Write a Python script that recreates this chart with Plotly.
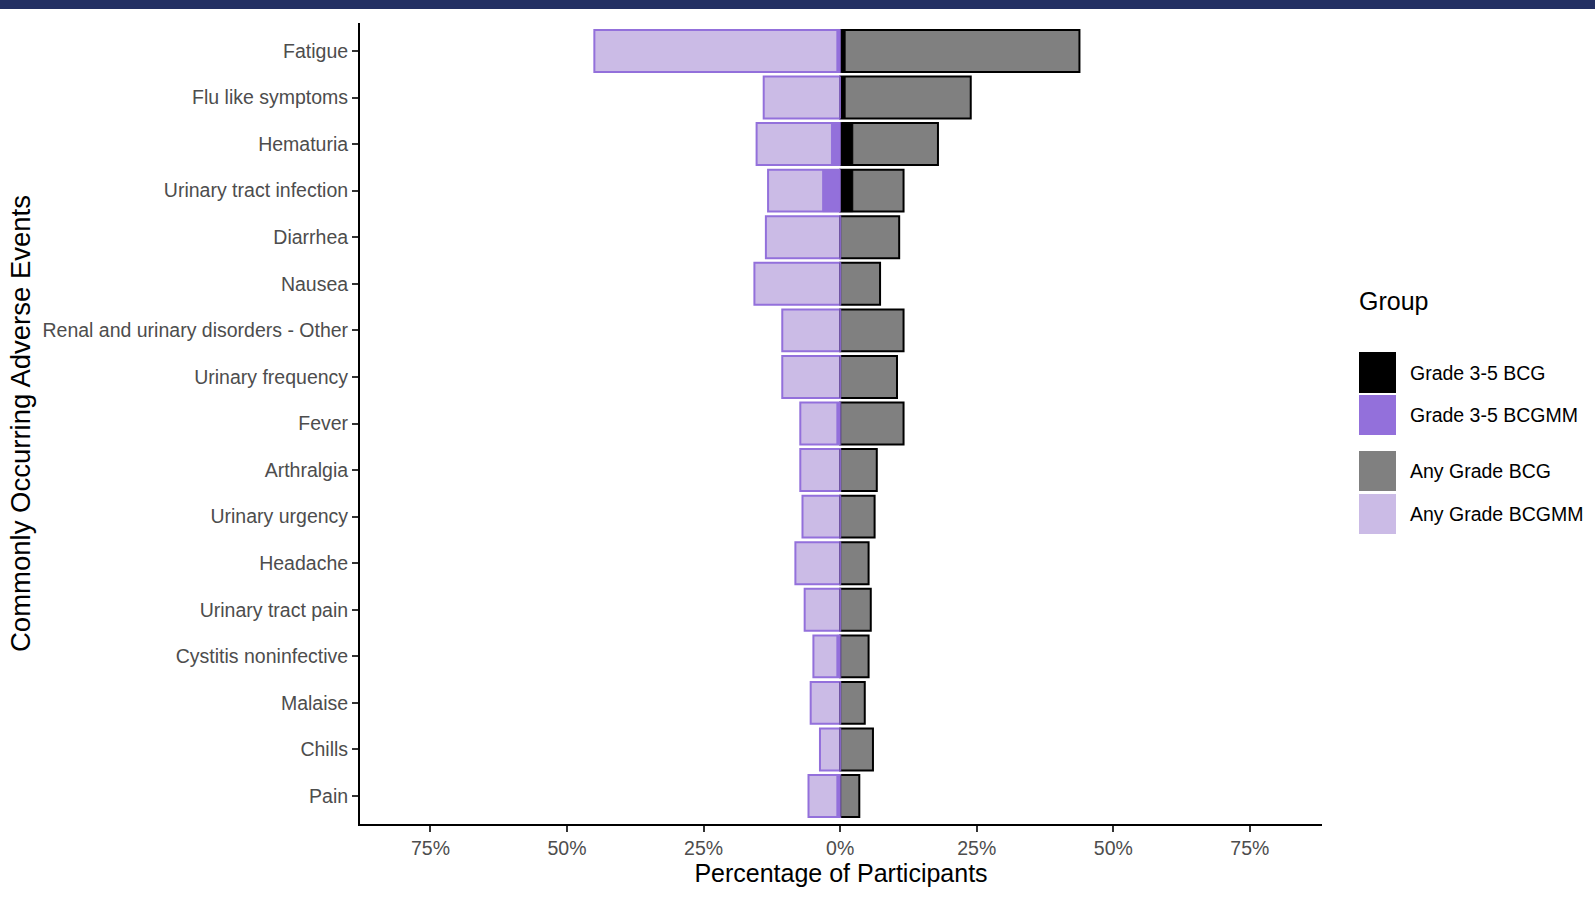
import plotly.graph_objects as go

categories = ["Fatigue", "Flu like symptoms", "Hematuria", "Urinary tract infection",
              "Diarrhea", "Nausea", "Renal and urinary disorders - Other",
              "Urinary frequency", "Fever", "Arthralgia", "Urinary urgency",
              "Headache", "Urinary tract pain", "Cystitis noninfective",
              "Malaise", "Chills", "Pain"]

any_grade_bcg = [43.8, 23.9, 17.9, 11.6, 10.8, 7.3, 11.6, 10.4, 11.6, 6.7, 6.3,
                 5.2, 5.6, 5.2, 4.5, 6.0, 3.5]
any_grade_bcgmm = [45.0, 14.0, 15.3, 13.2, 13.6, 15.7, 10.6, 10.6, 7.3, 7.3, 6.9,
                   8.2, 6.5, 4.9, 5.4, 3.7, 5.8]
grade35_bcg = [0.9, 0.9, 2.3, 2.3, 0, 0, 0, 0, 0, 0, 0, 0, 0, 0, 0, 0, 0]
grade35_bcgmm = [0.6, 0, 1.6, 3.2, 0, 0, 0, 0, 0.6, 0, 0, 0, 0, 0.6, 0, 0, 0.6]

tick_vals = [-75, -50, -25, 0, 25, 50, 75]
tick_text = ["75%", "50%", "25%", "0%", "25%", "50%", "75%"]

legend_title = "Group"
legend_names = ["Grade 3-5 BCG", "Grade 3-5 BCGMM", "Any Grade BCG", "Any Grade BCGMM"]

FONT = "Liberation Sans, Arial, sans-serif"
PURPLE_LIGHT = "#cbbbe6"
PURPLE = "#9370db"
GRAY = "#808080"
legend_colors = ["black", PURPLE, GRAY, PURPLE_LIGHT]

W, H = 1595, 899
ML, MR, MT, MB = 360, 273, 23, 75
PW, PH = W - ML - MR, H - MT - MB


def px_x(px):
    return (px - ML) / PW


def px_y(py):
    return 1 - (py - MT) / PH


fig = go.Figure()

fig.add_trace(go.Bar(
    y=categories, x=any_grade_bcg, base=0, orientation="h", name="Any Grade BCG",
    marker=dict(color=GRAY, line=dict(color="black", width=2)), width=0.9))
fig.add_trace(go.Bar(
    y=categories, x=[-v for v in any_grade_bcgmm], base=0, orientation="h",
    name="Any Grade BCGMM",
    marker=dict(color=PURPLE_LIGHT, line=dict(color=PURPLE, width=2)), width=0.9))
fig.add_trace(go.Bar(
    y=categories, x=grade35_bcg, base=0, orientation="h", name="Grade 3-5 BCG",
    marker=dict(color="black", line=dict(color="black", width=1)), width=0.9))
fig.add_trace(go.Bar(
    y=categories, x=[-v for v in grade35_bcgmm], base=0, orientation="h",
    name="Grade 3-5 BCGMM",
    marker=dict(color=PURPLE, line=dict(color=PURPLE, width=1)), width=0.9))

# legend drawn as swatches + text (large ggplot-style keys)
shapes = [dict(type="rect", xref="paper", yref="paper",
               x0=-ML / PW, x1=1 + MR / PW,
               y0=px_y(9), y1=px_y(0),
               fillcolor="#233063", line=dict(width=0), layer="above")]
annotations = [dict(text=legend_title, xref="paper", yref="paper",
                    x=px_x(1357), y=px_y(301), xanchor="left", yanchor="middle",
                    showarrow=False, font=dict(size=25, color="black", family=FONT))]
sw_top = [352, 395, 451, 494]
sw_bot = [393, 435, 491, 534]
for name, col, t, b in zip(legend_names, legend_colors, sw_top, sw_bot):
    shapes.append(dict(type="rect", xref="paper", yref="paper",
                       x0=px_x(1359), x1=px_x(1396), y0=px_y(b), y1=px_y(t),
                       fillcolor=col, line=dict(width=0)))
    annotations.append(dict(text=name, xref="paper", yref="paper",
                            x=px_x(1408), y=px_y((t + b) / 2), xanchor="left",
                            yanchor="middle", showarrow=False,
                            font=dict(size=19.5, color="black", family=FONT)))

fig.update_layout(
    width=W, height=H,
    barmode="overlay",
    plot_bgcolor="white", paper_bgcolor="white",
    margin=dict(l=ML, r=MR, t=MT, b=MB, autoexpand=False),
    font=dict(family=FONT, color="black"),
    showlegend=False,
    xaxis=dict(
        range=[-87.9, 88.2], tickvals=tick_vals, ticktext=tick_text,
        showgrid=False, zeroline=False,
        showline=True, linecolor="black", linewidth=2,
        ticks="outside", ticklen=6, tickwidth=1.5, tickcolor="#333333",
        tickfont=dict(size=19.5, color="#4d4d4d"),
        title=dict(text="Percentage of Participants", font=dict(size=25, color="black"),
                   standoff=6),
    ),
    yaxis=dict(
        categoryorder="array", categoryarray=categories,
        range=[16.6, -0.6],
        showgrid=False, zeroline=False,
        showline=True, linecolor="black", linewidth=2,
        ticks="outside", ticklen=6, tickwidth=1.5, tickcolor="#333333",
        tickfont=dict(size=19.5, color="#4d4d4d"),
        title=dict(text="Commonly Occurring Adverse Events",
                   font=dict(size=27.5, color="black"), standoff=4),
    ),
    shapes=shapes,
    annotations=annotations,
)

fig.write_html("out.html", config={"displayModeBar": False},
               post_script="document.body.style.margin='0';")
